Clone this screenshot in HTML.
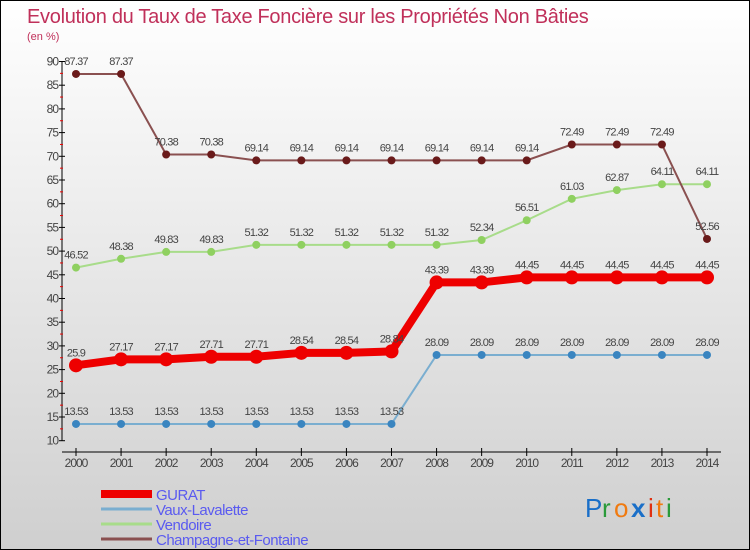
<!DOCTYPE html>
<html><head><meta charset="utf-8">
<style>
body{margin:0;}
#wrap{width:748px;height:548px;border:1px solid #000;background:linear-gradient(#ffffff,#cfcfcf);position:relative;overflow:hidden;font-family:"Liberation Sans",sans-serif;}
</style></head><body>
<div id="wrap">
<svg id="chart" width="748" height="548">
<text x="26" y="22" font-size="20" fill="#c0305a" letter-spacing="-0.3">Evolution du Taux de Taxe Foncière sur les Propriétés Non Bâties</text>
<text x="26" y="39" font-size="11" fill="#c0305a">(en %)</text>
<g id="axes"></g>
<g id="series"></g>
<g id="legend"></g>
<g font-size="26" font-family="'Liberation Sans',sans-serif">
<text x="584" y="516" fill="#1a6fc8">P</text><text x="601" y="516" fill="#2a9a3a">r</text><text x="613" y="516" fill="#f07a10">o</text><text x="630" y="516" fill="#1a6fc8" font-weight="bold">x</text><text x="647" y="516" fill="#e03010">i</text><text x="655" y="516" fill="#f07a10">t</text><text x="665" y="516" fill="#2a9a3a">i</text>
</g>
</svg>
</div>
<script>
const years=[2000,2001,2002,2003,2004,2005,2006,2007,2008,2009,2010,2011,2012,2013,2014];
const gurat=[25.9,27.17,27.17,27.71,27.71,28.54,28.54,28.84,43.39,43.39,44.45,44.45,44.45,44.45,44.45];
const vaux=[13.53,13.53,13.53,13.53,13.53,13.53,13.53,13.53,28.09,28.09,28.09,28.09,28.09,28.09,28.09];
const vendoire=[46.52,48.38,49.83,49.83,51.32,51.32,51.32,51.32,51.32,52.34,56.51,61.03,62.87,64.11,64.11];
const champagne=[87.37,87.37,70.38,70.38,69.14,69.14,69.14,69.14,69.14,69.14,69.14,72.49,72.49,72.49,52.56];
const yTicks=[10,15,20,25,30,35,40,45,50,55,60,65,70,75,80,85,90];
const names=["GURAT","Vaux-Lavalette","Vendoire","Champagne-et-Fontaine"];
const NS="http://www.w3.org/2000/svg";
function X(i){return 75+i*(706-75)/(years.length-1);}
function Y(v){return 439.7-(v-10)*4.74;}
function mk(tag,attrs,parent,txt){const e=document.createElementNS(NS,tag);for(const k in attrs)e.setAttribute(k,attrs[k]);if(txt!==undefined)e.textContent=txt;parent.appendChild(e);return e;}
const axes=document.getElementById('axes');
let yl=mk('line',{x1:61,y1:Y(90),x2:61,y2:440,stroke:'#000'},axes);


yTicks.forEach(t=>{
 let tk=mk('line',{x1:58,y1:Y(t),x2:64,y2:Y(t),stroke:'#000'},axes);
 
 
 let tl=mk('text',{x:57,y:Y(t)+4,'font-size':12,fill:'#444','text-anchor':'end','letter-spacing':'-1'},axes,t);
 
 
 if(t<90){let m=mk('line',{x1:59,y1:Y(t+2.5),x2:62,y2:Y(t+2.5),stroke:'#e00'},axes);
 
 }
});
let xl=mk('line',{x1:61,y1:451,x2:720,y2:451,stroke:'#000'},axes);


years.forEach((yr,i)=>{
 let tk=mk('line',{x1:X(i),y1:447,x2:X(i),y2:455,stroke:'#000'},axes);
 
 
 let tl=mk('text',{x:X(i),y:466,'font-size':12,fill:'#444','text-anchor':'middle','letter-spacing':'-1'},axes,yr);
 
 
});
const ser=document.getElementById('series');
function draw(data,color,lw,r,dot,nm){
 const g=mk('g',{},ser);
 
 
 const pts=data.map((v,i)=>X(i)+','+Y(v)).join(' ');
 let pl=mk('polyline',{points:pts,fill:'none',stroke:color,'stroke-width':lw},g);
 
 
 data.forEach((v,i)=>{
  let c=mk('circle',{cx:X(i),cy:Y(v),r:r,fill:dot},g);
  
  
  let t=mk('text',{x:X(i),y:Y(v)-9,'font-size':11,fill:'#444','text-anchor':'middle','letter-spacing':'-0.8'},g,v);
  
  
 });
}
draw(vaux,'#7aaed0',2,4,'#3a85c0','vaux-lavalette');
draw(vendoire,'#a8dc8a',2,4,'#8fd060','vendoire');
draw(champagne,'#8a5050',2,4,'#6a1a1a','champagne-et-fontaine');
draw(gurat,'#ee0000',8,7,'#ee0000','gurat');
const leg=document.getElementById('legend');
const lc=[['#ee0000',8],['#7aaed0',3],['#a8dc8a',3],['#8a5050',3]];
names.forEach((n,i)=>{
 const y=493+i*15;
 const g=mk('g',{},leg);
 
 
 mk('line',{x1:100,y1:y,x2:151,y2:y,stroke:lc[i][0],'stroke-width':lc[i][1]},g);
 mk('text',{x:155,y:y+6,'font-size':15,fill:'#5a5af0','letter-spacing':'-0.5'},g,n);
});
</script>
</body></html>
